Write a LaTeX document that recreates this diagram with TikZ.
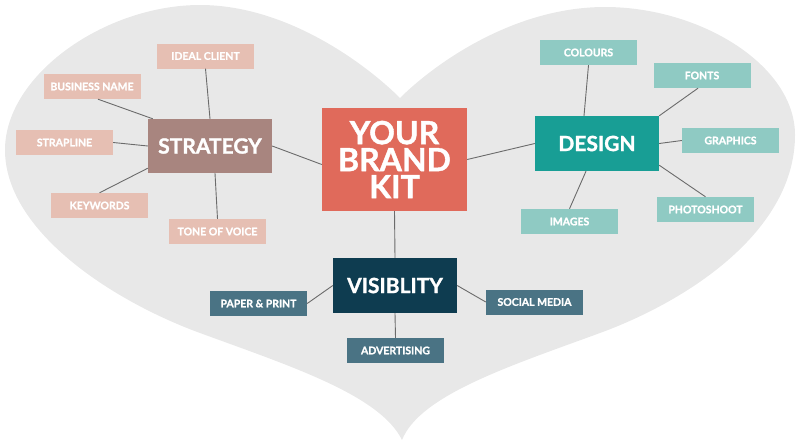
\documentclass[tikz,border=0pt]{standalone}
\usepackage{fontspec}
\setmainfont{Lato}[BoldFeatures={FakeBold=1.2}]
\usetikzlibrary{calc}
\definecolor{heartgrey}{HTML}{E8E8E8}
\definecolor{kitred}{HTML}{E06A5B}
\definecolor{stratcol}{HTML}{A8857F}
\definecolor{stratleaf}{HTML}{E6BFB3}
\definecolor{designcol}{HTML}{189E95}
\definecolor{designleaf}{HTML}{8FCAC3}
\definecolor{viscol}{HTML}{0E3C50}
\definecolor{visleaf}{HTML}{4A7384}
\definecolor{linkcol}{HTML}{6B6B6B}
\begin{document}
\begin{tikzpicture}[x=1pt,y=-1pt,
  box/.style={rectangle,inner sep=0pt,text=white,font=\bfseries,align=center},
  hub/.style={box,minimum width=124pt,minimum height=55pt,font=\fontsize{21}{24}\selectfont\bfseries},
  leaf/.style={box,minimum width=97pt,minimum height=25pt,font=\fontsize{10.5}{12}\selectfont\bfseries},
  link/.style={draw=linkcol,line width=0.9pt}]
\useasboundingbox (0,0) rectangle (800,445);
% heart
\fill[heartgrey] (400,98)
  .. controls (370,68) and (290,5) .. (200,5)
  .. controls (105,5) and (5,75) .. (5,150)
  .. controls (5,230) and (110,300) .. (200,333)
  .. controls (290,366) and (380,395) .. (402,440)
  .. controls (420,395) and (510,366) .. (600,333)
  .. controls (690,300) and (795,230) .. (795,135)
  .. controls (795,65) and (700,7) .. (605,7)
  .. controls (510,7) and (430,68) .. (400,98) -- cycle;
% hubs
\node[box,fill=kitred,minimum width=145pt,minimum height=103pt,font=\fontsize{32}{27}\selectfont\bfseries] (kit) at (394.5,159.5) {YOUR\\BRAND\\KIT};
\node[hub,fill=stratcol,minimum height=54pt] (strategy) at (210,146) {STRATEGY};
\node[hub,fill=designcol] (design) at (597,143.5) {DESIGN};
\node[hub,fill=viscol] (vis) at (395,285.5) {VISIBLITY};
% strategy leaves
\node[leaf,fill=stratleaf] (ideal) at (205.5,56) {IDEAL CLIENT};
\node[leaf,fill=stratleaf] (busname) at (92,86.5) {BUSINESS NAME};
\node[leaf,fill=stratleaf] (strap) at (64.5,142.5) {STRAPLINE};
\node[leaf,fill=stratleaf] (keywords) at (99.5,205.5) {KEYWORDS};
\node[leaf,fill=stratleaf] (tone) at (217.5,231.5) {TONE OF VOICE};
% design leaves
\node[leaf,fill=designleaf] (colours) at (588.5,52.5) {COLOURS};
\node[leaf,fill=designleaf] (fonts) at (702,75.5) {FONTS};
\node[leaf,fill=designleaf] (graphics) at (730.5,140.5) {GRAPHICS};
\node[leaf,fill=designleaf] (images) at (569.5,221.5) {IMAGES};
\node[leaf,fill=designleaf] (photo) at (705.5,209.5) {PHOTOSHOOT};
% visibility leaves
\node[leaf,fill=visleaf] (paper) at (258.5,303.5) {PAPER \& PRINT};
\node[leaf,fill=visleaf] (social) at (534.5,302) {SOCIAL MEDIA};
\node[leaf,fill=visleaf] (advert) at (395.5,350.5) {ADVERTISING};
% links
\draw[link] (strategy.east) -- ($(kit.west)+(0,5)$);
\draw[link] (kit.east) -- (design.west);
\draw[link] (kit.south) -- (vis.north);
\draw[link] (ideal.south) -- (strategy.north);
\draw[link] ($(busname.south)+(6,0)$) -- ($(strategy.north west)+(5,0)$);
\draw[link] (strap.east) -- (strategy.west);
\draw[link] (keywords.north) -- ($(strategy.south west)+(0,-5)$);
\draw[link] (tone.north) -- ($(strategy.south)+(5,0)$);
\draw[link] (colours.south) -- ($(design.north)+(-13,0)$);
\draw[link] ($(fonts.south)+(-4,0)$) -- (design.north east);
\draw[link] (graphics.west) -- (design.east);
\draw[link] (images.north) -- ($(design.south)+(-11,0)$);
\draw[link] (photo.north) -- ($(design.south east)+(0,-6)$);
\draw[link] (paper.east) -- (vis.west);
\draw[link] (social.west) -- (vis.east);
\draw[link] (advert.north) -- (vis.south);
\end{tikzpicture}
\end{document}
